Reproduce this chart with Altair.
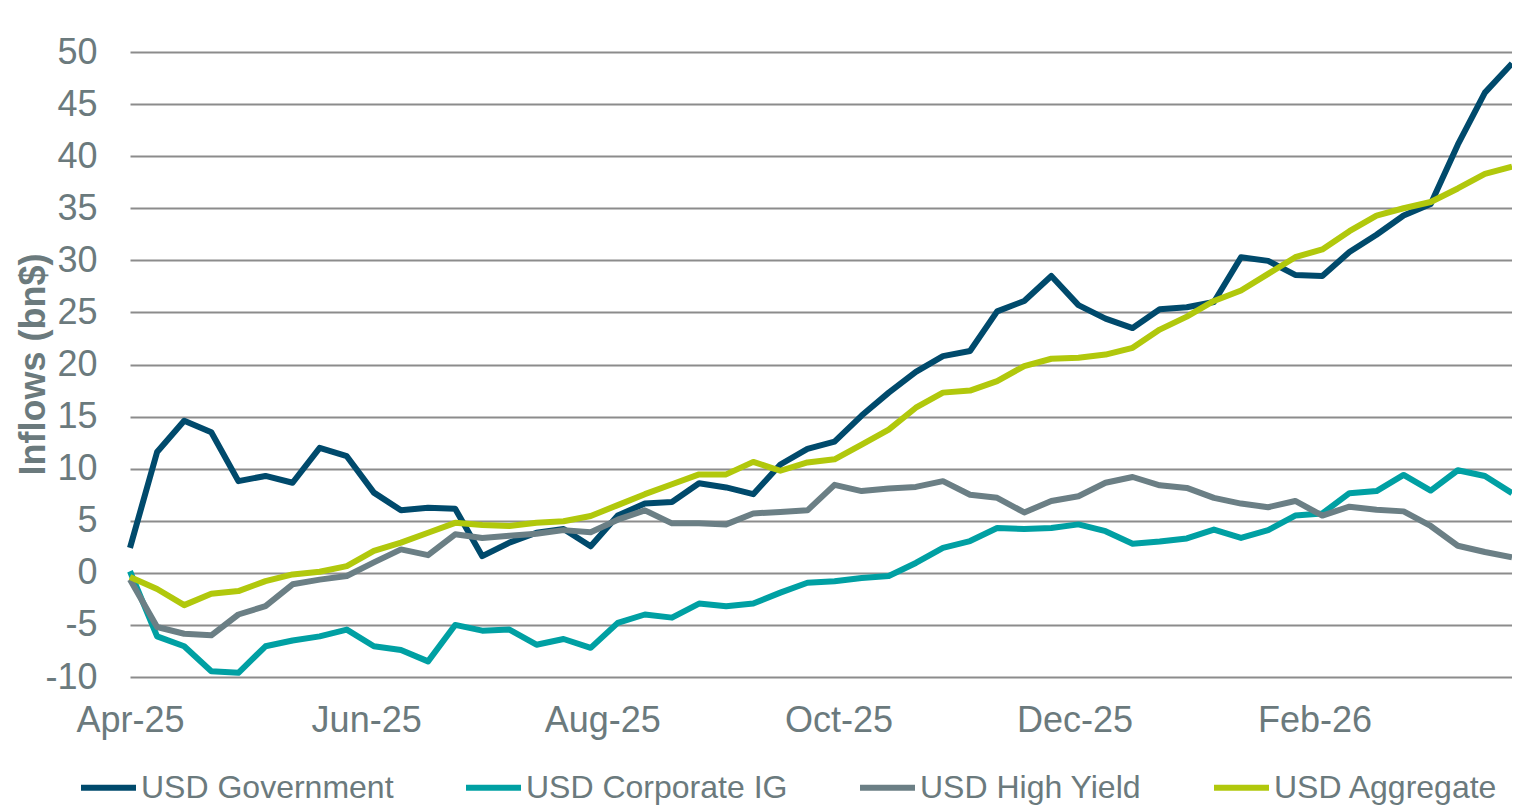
import altair as alt
import pandas as pd

# Weekly cumulative inflows (bn$), Apr-2025 .. Mar-2026
dates = [d.strftime("%Y-%m-%dT00:00:00") for d in pd.date_range("2025-04-01", periods=52, freq="7D")]

usd_gov = [2.4, 11.6, 14.6, 13.5, 8.8, 9.3, 8.65, 12.0, 11.2, 7.7, 6.0, 6.25, 6.15, 1.6,
           2.9, 3.85, 4.2, 2.55, 5.5, 6.65, 6.8, 8.6, 8.2, 7.55, 10.4, 11.9, 12.6, 15.1,
           17.3, 19.3, 20.8, 21.3, 25.1, 26.1, 28.5, 25.7, 24.4, 23.5, 25.3, 25.5, 26.0,
           30.3, 29.95, 28.6, 28.5, 30.8, 32.45, 34.3, 35.4, 41.1, 46.1, 48.9]
usd_corp_ig = [0.15, -6.1, -7.05, -9.45, -9.6, -7.05, -6.5, -6.1, -5.45, -7.05, -7.4, -8.5,
               -5.0, -5.55, -5.45, -6.9, -6.35, -7.2, -4.8, -4.0, -4.3, -2.95, -3.2, -2.95,
               -1.9, -0.95, -0.8, -0.5, -0.3, 0.95, 2.4, 3.05, 4.3, 4.2, 4.3, 4.65, 4.0, 2.8,
               3.0, 3.3, 4.15, 3.35, 4.1, 5.5, 5.7, 7.65, 7.85, 9.4, 7.9, 9.85, 9.3, 7.65]
usd_high_yield = [-0.65, -5.2, -5.85, -6.0, -4.0, -3.2, -1.1, -0.65, -0.3, 1.0, 2.25, 1.7,
                  3.7, 3.35, 3.55, 3.75, 4.1, 3.9, 5.1, 6.0, 4.75, 4.75, 4.65, 5.7, 5.85, 6.0,
                  8.45, 7.85, 8.1, 8.25, 8.8, 7.5, 7.2, 5.8, 6.9, 7.35, 8.65, 9.2, 8.4, 8.15,
                  7.2, 6.65, 6.3, 6.9, 5.5, 6.35, 6.05, 5.9, 4.5, 2.6, 2.0, 1.5]
usd_aggregate = [-0.4, -1.55, -3.1, -2.0, -1.75, -0.8, -0.15, 0.1, 0.65, 2.1, 2.9, 3.85, 4.8,
                 4.6, 4.5, 4.8, 4.95, 5.45, 6.5, 7.55, 8.5, 9.45, 9.45, 10.65, 9.8, 10.6,
                 10.9, 12.3, 13.75, 15.85, 17.3, 17.5, 18.4, 19.85, 20.55, 20.65, 20.95,
                 21.6, 23.35, 24.6, 26.1, 27.1, 28.7, 30.3, 31.05, 32.8, 34.3, 35.0, 35.6,
                 36.9, 38.3, 39.0]

series_names = ["USD Government", "USD Corporate IG", "USD High Yield", "USD Aggregate"]
series_colors = ["#004a6c", "#00a0a3", "#6b7f85", "#b1c80c"]
y_ticks = list(range(-10, 51, 5))

rows = []
for name, vals in zip(series_names, [usd_gov, usd_corp_ig, usd_high_yield, usd_aggregate]):
    for d, v in zip(dates, vals):
        rows.append({"date": d, "value": v, "series": name})
df = pd.DataFrame(rows)

label_color = "#6b7a7d"
font = "Liberation Sans"

x_ticks = [alt.DateTime(year=2025, month=4, date=1), alt.DateTime(year=2025, month=6, date=1),
           alt.DateTime(year=2025, month=8, date=1), alt.DateTime(year=2025, month=10, date=1),
           alt.DateTime(year=2025, month=12, date=1), alt.DateTime(year=2026, month=2, date=1)]

chart = alt.Chart(df).mark_line(strokeWidth=6, strokeJoin="round", strokeCap="butt").encode(
    x=alt.X("date:T",
            scale=alt.Scale(domain=[alt.DateTime(year=2025, month=4, date=1),
                                    alt.DateTime(year=2026, month=3, date=24)]),
            axis=alt.Axis(title=None, values=x_ticks, format="%b-%y", grid=False, domain=False,
                          ticks=False, labelFontSize=36, labelColor=label_color, labelFont=font,
                          labelPadding=26, labelFlush=False, labelOverlap=False)),
    y=alt.Y("value:Q",
            scale=alt.Scale(domain=[-10, 50], nice=False, zero=False),
            axis=alt.Axis(title="Inflows (bn$)", values=y_ticks, grid=True, gridColor="#8c8c8c",
                          gridWidth=1.8, domain=False, ticks=False, labelFontSize=36,
                          labelExpr="toString(datum.value)",
                          labelColor=label_color, labelFont=font, labelPadding=33,
                          titleFont=font, titleFontSize=36, titleFontWeight="bold",
                          titleColor=label_color, titleX=-97, titleY=312, titleAngle=270,
                          titleAlign="center", titleBaseline="middle")),
    color=alt.Color("series:N",
                    scale=alt.Scale(domain=series_names, range=series_colors),
                    legend=alt.Legend(title=None, orient="none", legendX=-52, legendY=705,
                                      direction="horizontal", columns=4, symbolType="stroke",
                                      symbolSize=3025, symbolStrokeWidth=6, labelFontSize=32,
                                      labelFont=font, labelColor=label_color, labelOffset=2,
                                      columnPadding=60, labelLimit=400)),
    order=alt.Order("date:T"),
).properties(
    width=1382, height=625,
    autosize=alt.AutoSizeParams(type="none"),
    padding={"left": 122, "top": 44, "right": 0, "bottom": 132},
).configure_view(stroke=None)

chart.save("out.html", embed_options={"renderer": "svg", "actions": False})
